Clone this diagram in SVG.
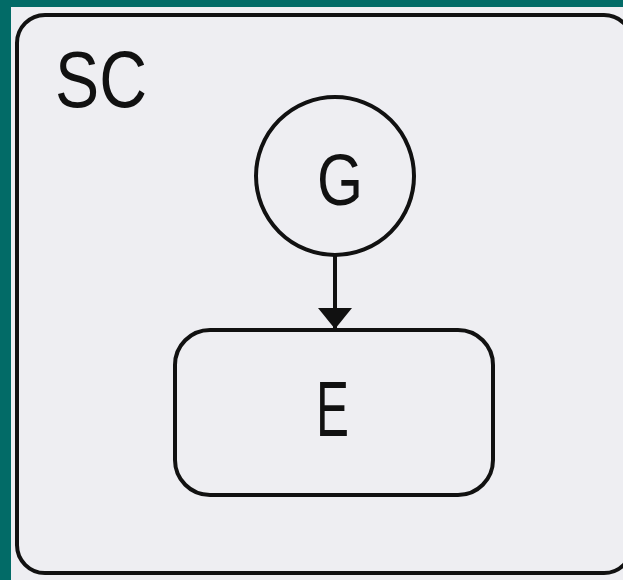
<svg xmlns="http://www.w3.org/2000/svg" width="623" height="580" viewBox="0 0 623 580">
  <defs>
    <style>
      .ln { fill: none; stroke: #111; stroke-width: 4; }
      .lbl { font-family: "Liberation Sans", Arial, sans-serif; fill: #111; }
    </style>
    <marker id="ah" markerWidth="22" markerHeight="34" refX="21" refY="17" orient="auto" markerUnits="userSpaceOnUse" viewBox="0 0 22 34">
      <path d="M0,0 L21,17 L0,34 Z" fill="#111"/>
    </marker>
  </defs>
  <rect x="0" y="0" width="623" height="580" fill="#026b67"/>
  <rect x="11" y="7" width="612" height="573" fill="#eeeef2"/>
  <g id="SC">
    <rect class="ln" x="17" y="15" width="615" height="558" rx="28" ry="28"/>
    <text class="lbl" x="55" y="107" font-size="79" textLength="92" lengthAdjust="spacingAndGlyphs">SC</text>
  </g>
  <g id="connectors">
    <line class="ln" x1="335" y1="256" x2="335" y2="329" stroke-width="3.5" marker-end="url(#ah)"/>
  </g>
  <g id="G">
    <circle class="ln" cx="335" cy="176" r="79"/>
    <text class="lbl" x="340" y="205" font-size="73" text-anchor="middle" textLength="46" lengthAdjust="spacingAndGlyphs">G</text>
  </g>
  <g id="E">
    <rect class="ln" x="175" y="330" width="318" height="165" rx="35" ry="35"/>
    <text class="lbl" x="316" y="436" font-size="78" textLength="33" lengthAdjust="spacingAndGlyphs">E</text>
  </g>
</svg>
